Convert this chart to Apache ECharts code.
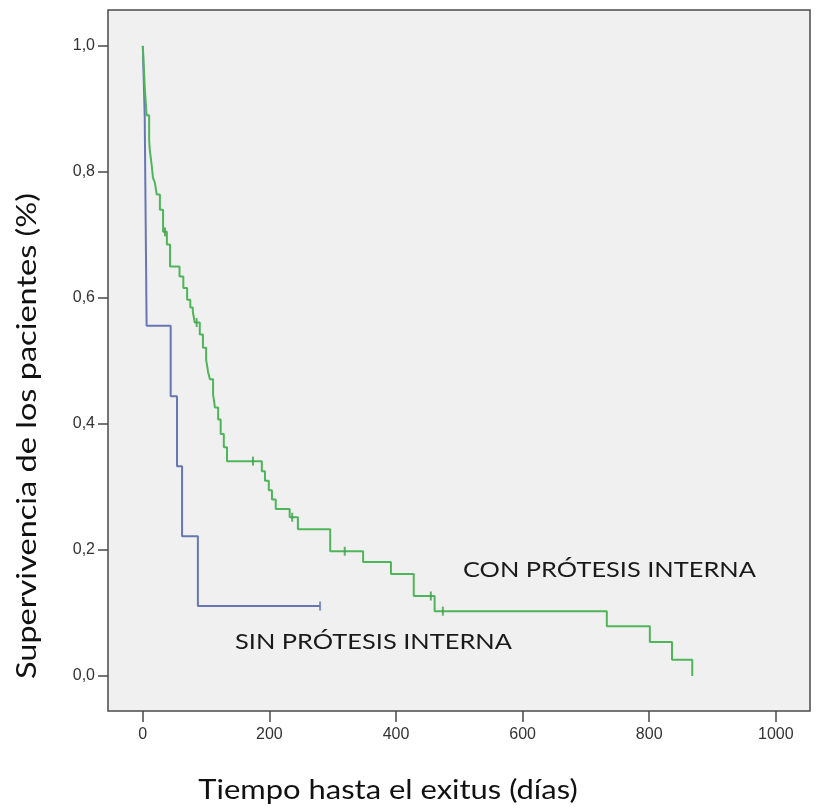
<!DOCTYPE html>
<html>
<head>
<meta charset="utf-8">
<script src="https://cdn.jsdelivr.net/npm/echarts@6/dist/echarts.min.js"></script>
<style>
  html, body { margin: 0; padding: 0; background: #ffffff; }
  #chart { width: 816px; height: 809px; }
</style>
</head>
<body>
<div id="chart"></div>
<script>
// Kaplan-Meier: con prótesis interna (verde)
const conTimes = [0, 3, 6, 10, 11, 14, 16, 19, 22, 27, 32, 38, 43, 58, 64, 70, 75, 79, 82, 90, 95, 100, 103, 106, 111, 114, 119, 123, 128, 133, 188, 193, 199, 204, 210, 232, 245, 296, 348, 392, 428, 461, 733, 801, 836, 868];
const conSurv  = [1.0, 0.935, 0.89, 0.851, 0.835, 0.811, 0.791, 0.783, 0.764, 0.74, 0.705, 0.685, 0.65, 0.634, 0.616, 0.597, 0.585, 0.578, 0.561, 0.542, 0.521, 0.502, 0.483, 0.471, 0.447, 0.426, 0.407, 0.384, 0.363, 0.341, 0.325, 0.31, 0.295, 0.28, 0.265, 0.252, 0.233, 0.198, 0.181, 0.162, 0.127, 0.103, 0.079, 0.054, 0.026, 0.0];
const conCensTimes = [35, 85, 174, 236, 319, 455, 474];
const conCensSurv  = [0.705, 0.561, 0.341, 0.252, 0.198, 0.127, 0.103];

// sin prótesis interna (azul)
const sinTimes = [0, 3, 4, 5, 6, 44, 54, 62, 87, 280];
const sinSurv  = [1.0, 0.889, 0.778, 0.667, 0.556, 0.444, 0.333, 0.222, 0.111, 0.111];
const sinCensTimes = [280];
const sinCensSurv  = [0.111];

const xTicks = [0, 200, 400, 600, 800, 1000];
const yTicks = [0, 0.2, 0.4, 0.6, 0.8, 1.0];

const pairs = (a, b) => a.map((v, i) => [v, b[i]]);

let myChart = echarts.init(document.getElementById('chart'));
let option = {
  animation: false,
  backgroundColor: '#ffffff',
  grid: {
    left: 108, top: 10, right: 6, bottom: 98,
    show: true,
    backgroundColor: '#f0f0f0',
    borderColor: '#4a4a4a',
    borderWidth: 1.5,
  },
  xAxis: {
    type: 'value',
    min: -55, max: 1054,
    axisLine: { show: false, onZero: false },
    splitLine: { show: false },
    axisTick: { show: true, length: 11, customValues: xTicks, lineStyle: { color: '#4a4a4a', width: 1.5 } },
    axisLabel: {
      customValues: xTicks, margin: 16, fontFamily: 'Liberation Sans', fontSize: 16, color: '#333',
      formatter: v => String(v),
    },
  },
  yAxis: {
    type: 'value',
    min: -0.0555, max: 1.057,
    axisLine: { show: false, onZero: false },
    splitLine: { show: false },
    axisTick: { show: true, length: 10, customValues: yTicks, lineStyle: { color: '#4a4a4a', width: 1.5 } },
    axisLabel: {
      customValues: yTicks, margin: 13, fontFamily: 'Liberation Sans', fontSize: 16, color: '#333',
      formatter: v => v.toFixed(1).replace('.', ','),
    },
  },
  graphic: [
    // textos ensanchados como en la imagen original
    { type: 'text', x: 463, y: 570, scaleX: 1.21,
      style: { text: 'CON PRÓTESIS INTERNA', font: '21px Lato', fill: '#1a1a1a', textVerticalAlign: 'middle' } },
    { type: 'text', x: 235, y: 642, scaleX: 1.21,
      style: { text: 'SIN PRÓTESIS INTERNA', font: '21px Lato', fill: '#1a1a1a', textVerticalAlign: 'middle' } },
    { type: 'text', x: 388, y: 791, scaleX: 1.19,
      style: { text: 'Tiempo hasta el exitus (días)', font: '26px Lato', fill: '#111', textAlign: 'center', textVerticalAlign: 'middle' } },
    { type: 'text', x: 28, y: 436, rotation: Math.PI / 2, scaleX: 1.25,
      style: { text: 'Supervivencia de los pacientes (%)', font: '26px Lato', fill: '#111', textAlign: 'center', textVerticalAlign: 'middle' } },
  ],
  series: [
    {
      name: 'sin', type: 'line', step: 'end', data: pairs(sinTimes, sinSurv),
      showSymbol: false, lineStyle: { color: '#6677b3', width: 2 }, z: 3,
    },
    {
      name: 'con', type: 'line', step: 'end', data: pairs(conTimes, conSurv),
      showSymbol: false, lineStyle: { color: '#4fb55a', width: 2 }, z: 4,
    },
    {
      name: 'sin cens', type: 'scatter', data: pairs(sinCensTimes, sinCensSurv),
      symbol: 'rect', symbolSize: [2, 9], itemStyle: { color: '#6677b3' }, z: 5,
    },
    {
      name: 'con cens', type: 'scatter', data: pairs(conCensTimes, conCensSurv),
      symbol: 'rect', symbolSize: [2, 9], itemStyle: { color: '#3f9e4a' }, z: 5,
    },
  ],
};
myChart.setOption(option);
</script>
</body>
</html>
